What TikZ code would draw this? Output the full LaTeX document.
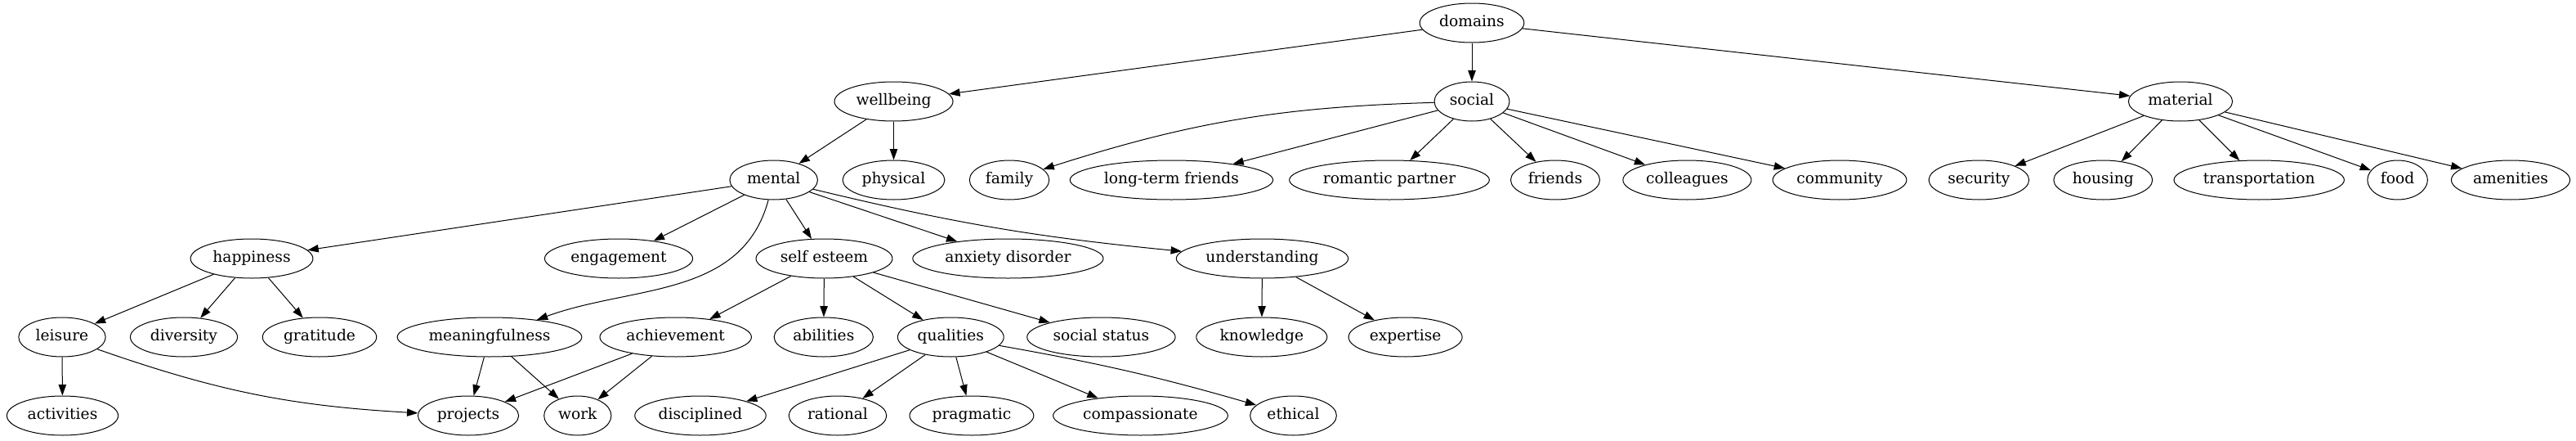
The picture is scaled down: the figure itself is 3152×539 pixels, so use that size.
\documentclass[tikz,border=0pt]{standalone}
\usepackage{fontspec}
\setmainfont{DejaVu Serif}
\usepackage{tikz}
\usetikzlibrary{shapes,arrows.meta}
\tikzstyle{topic}=[ellipse,draw=black,line width=0.75pt,inner xsep=4pt,inner ysep=1pt,minimum height=36pt,minimum width=54pt,font=\fontsize{14pt}{16pt}\selectfont,text height=10.5pt,text depth=3.5pt]
\tikzstyle{link}=[-{Triangle[length=10pt,width=7pt]},line width=0.75pt]

\begin{document}
\begin{tikzpicture}[x=0.75pt,y=-0.75pt]
    \useasboundingbox (0,0) rectangle (3152,539);

    % Knoten
    \node[topic] (domains) at (1801,28) {domains};
    \node[topic] (wellbeing) at (1093.5,124) {wellbeing};
    \node[topic] (social) at (1801,124) {social};
    \node[topic] (material) at (2668,124) {material};

    \node[topic] (mental) at (946.7,220) {mental};
    \node[topic] (physical) at (1093.5,220) {physical};
    \node[topic] (family) at (1235,220) {family};
    \node[topic] (ltfriends) at (1433.4,220) {long-term friends};
    \node[topic] (partner) at (1700,220) {romantic partner};
    \node[topic] (friends) at (1903,220) {friends};
    \node[topic] (colleagues) at (2064.4,220) {colleagues};
    \node[topic] (community) at (2251,220) {community};
    \node[topic] (security) at (2421.4,220) {security};
    \node[topic] (housing) at (2573.3,220) {housing};
    \node[topic] (transport) at (2764.2,220) {transportation};
    \node[topic] (food) at (2933.6,220) {food};
    \node[topic] (amenities) at (3072,220) {amenities};

    \node[topic] (happiness) at (308,316) {happiness};
    \node[topic] (engagement) at (757,316) {engagement};
    \node[topic] (esteem) at (1008.5,316) {self esteem};
    \node[topic] (anxiety) at (1233.4,316) {anxiety disorder};
    \node[topic] (understanding) at (1544.5,316) {understanding};

    \node[topic] (leisure) at (76,412) {leisure};
    \node[topic] (diversity) at (225,412) {diversity};
    \node[topic] (gratitude) at (391,412) {gratitude};
    \node[topic] (meaning) at (599,412) {meaningfulness};
    \node[topic] (achievement) at (826.7,412) {achievement};
    \node[topic] (abilities) at (1007.8,412) {abilities};
    \node[topic] (qualities) at (1163.3,412) {qualities};
    \node[topic] (status) at (1347.4,412) {social status};
    \node[topic] (knowledge) at (1543.8,412) {knowledge};
    \node[topic] (expertise) at (1719.6,412) {expertise};

    \node[topic] (activities) at (76.5,508) {activities};
    \node[topic] (projects) at (573,508) {projects};
    \node[topic] (work) at (706.8,508) {work};
    \node[topic] (disciplined) at (857,508) {disciplined};
    \node[topic] (rational) at (1025,508) {rational};
    \node[topic] (pragmatic) at (1188.9,508) {pragmatic};
    \node[topic] (compassionate) at (1395.5,508) {compassionate};
    \node[topic] (ethical) at (1582.5,508) {ethical};

    % Kanten
    \draw [link] (domains) to (wellbeing);
    \draw [link] (domains) to (social);
    \draw [link] (domains) to (material);

    \draw [link] (wellbeing) to (mental);
    \draw [link] (wellbeing) to (physical);

    \draw [link] (social) to[bend right=8] (family);
    \draw [link] (social) to (ltfriends);
    \draw [link] (social) to (partner);
    \draw [link] (social) to (friends);
    \draw [link] (social) to (colleagues);
    \draw [link] (social) to (community);

    \draw [link] (material) to (security);
    \draw [link] (material) to (housing);
    \draw [link] (material) to (transport);
    \draw [link] (material) to (food);
    \draw [link] (material) to (amenities);

    \draw [link] (mental) to (happiness);
    \draw [link] (mental) to (engagement);
    \draw [link] (mental) to[out=-105,in=20] (meaning);
    \draw [link] (mental) to (esteem);
    \draw [link] (mental) to (anxiety);
    \draw [link] (mental) to[bend right=4] (understanding);

    \draw [link] (happiness) to (leisure);
    \draw [link] (happiness) to (diversity);
    \draw [link] (happiness) to (gratitude);

    \draw [link] (esteem) to (achievement);
    \draw [link] (esteem) to (abilities);
    \draw [link] (esteem) to (qualities);
    \draw [link] (esteem) to (status);

    \draw [link] (understanding) to (knowledge);
    \draw [link] (understanding) to (expertise);

    \draw [link] (leisure) to (activities);
    \draw [link] (leisure) to[bend right=8] (projects);
    \draw [link] (meaning) to (projects);
    \draw [link] (meaning) to (work);
    \draw [link] (achievement) to (projects);
    \draw [link] (achievement) to (work);

    \draw [link] (qualities) to (disciplined);
    \draw [link] (qualities) to (rational);
    \draw [link] (qualities) to (pragmatic);
    \draw [link] (qualities) to (compassionate);
    \draw [link] (qualities) to[bend left=3] (ethical);

\end{tikzpicture}
\end{document}
